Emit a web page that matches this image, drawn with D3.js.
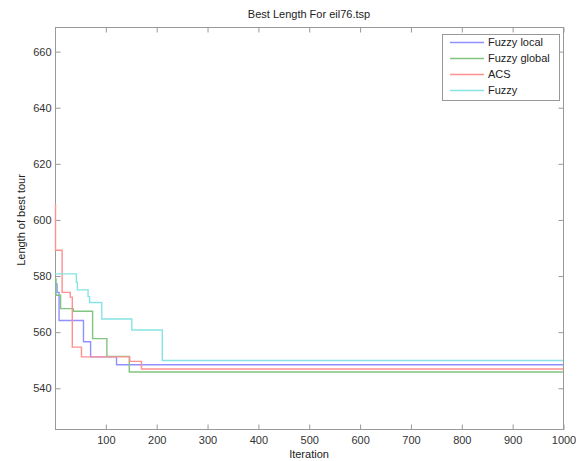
<!DOCTYPE html>
<html>
<head>
<meta charset="utf-8">
<script src="https://cdn.jsdelivr.net/npm/d3@7"></script>
<style>
  body { margin: 0; background: #fff; }
  svg { display: block; font-family: "Liberation Sans", Arial, sans-serif; }
</style>
</head>
<body>
<svg id="chart"></svg>
<script>
var seriesNames = ['Fuzzy local', 'Fuzzy global', 'ACS', 'Fuzzy'];
var seriesColors = ['#9090ff', '#80c480', '#ff9090', '#88e4e4'];

// step points: [iteration, best length]
var fuzzyLocal = [[1, 577], [5, 574], [9, 564], [57, 556.4], [71, 551], [122, 548.2], [1000, 548.2]];
var fuzzyGlobal = [[1, 578.8], [3, 573], [12, 568.2], [37, 567.3], [75, 557.5], [103, 551.2], [147, 545.6], [1000, 545.6]];
var acs = [[1, 605.3], [2, 589], [15, 574], [31, 572.3], [35, 554.5], [53, 551], [148, 549.4], [171, 546.7], [1000, 546.7]];
var fuzzy = [[1, 580.6], [43, 577.6], [45, 574.9], [66, 572.5], [69, 570.4], [93, 564.5], [152, 560.6], [212, 549.7], [1000, 549.7]];

var xTicks = [100, 200, 300, 400, 500, 600, 700, 800, 900, 1000];
var yTicks = [540, 560, 580, 600, 620, 640, 660];

var width = 581;
var height = 461;
var borders = { top: 27, right: 18, bottom: 32, left: 55 };

var svg = d3.select('#chart').attr('width', width).attr('height', height);

var xScale = d3.scaleLinear()
  .domain([1, 1000])
  .range([borders.left, width - borders.right]);

var yScale = d3.scaleLinear()
  .domain([525.3, 668.6])
  .range([height - borders.bottom, borders.top]);

var plotW = width - borders.left - borders.right;
var plotH = height - borders.top - borders.bottom;

// frame
svg.append('rect')
  .attr('x', borders.left + 0.5)
  .attr('y', borders.top + 0.5)
  .attr('width', plotW)
  .attr('height', plotH)
  .attr('fill', 'none')
  .attr('stroke', '#999');

// bottom + top axes (ticks pointing inside)
svg.append('g')
  .attr('class', 'bottomAxis')
  .attr('transform', 'translate(0.5,' + (height - borders.bottom + 0.5) + ')')
  .call(d3.axisBottom(xScale).tickValues(xTicks).tickFormat(d3.format('d'))
    .tickSizeInner(-5).tickSizeOuter(0).tickPadding(7));

svg.append('g')
  .attr('class', 'topAxis')
  .attr('transform', 'translate(0.5,' + (borders.top + 0.5) + ')')
  .call(d3.axisTop(xScale).tickValues(xTicks).tickSizeInner(-5).tickSizeOuter(0).tickFormat(''));

svg.append('g')
  .attr('class', 'leftAxis')
  .attr('transform', 'translate(' + (borders.left + 0.5) + ',0.5)')
  .call(d3.axisLeft(yScale).tickValues(yTicks).tickFormat(d3.format('d'))
    .tickSizeInner(-5).tickSizeOuter(0).tickPadding(4));

svg.append('g')
  .attr('class', 'rightAxis')
  .attr('transform', 'translate(' + (width - borders.right + 0.5) + ',0.5)')
  .call(d3.axisRight(yScale).tickValues(yTicks).tickSizeInner(-5).tickSizeOuter(0).tickFormat(''));

svg.selectAll('.domain').remove();
svg.selectAll('.tick line').attr('stroke', '#999');
svg.selectAll('.tick text')
  .attr('fill', '#333')
  .attr('font-size', '11px')
  .attr('font-family', '"Liberation Sans", Arial, sans-serif');

// lines
var line = d3.line()
  .curve(d3.curveStepAfter)
  .x(function(d) { return xScale(d[0]); })
  .y(function(d) { return yScale(d[1]); });

var allSeries = [fuzzyLocal, fuzzyGlobal, acs, fuzzy];

svg.append('g').selectAll('path')
  .data(allSeries)
  .enter()
  .append('path')
  .attr('d', line)
  .attr('fill', 'none')
  .attr('stroke', function(d, i) { return seriesColors[i]; })
  .attr('stroke-width', 1.4);

// legend
var legend = svg.append('g').attr('class', 'legend');
legend.append('rect')
  .attr('x', 442.5)
  .attr('y', 34.5)
  .attr('width', 117)
  .attr('height', 66)
  .attr('fill', '#fff')
  .attr('stroke', '#999');

var legendRows = legend.selectAll('g.row')
  .data(seriesNames)
  .enter()
  .append('g')
  .attr('class', 'row')
  .attr('transform', function(d, i) { return 'translate(0,' + (42.5 + i * 16) + ')'; });

legendRows.append('line')
  .attr('x1', 450)
  .attr('x2', 484)
  .attr('stroke', function(d, i) { return seriesColors[i]; })
  .attr('stroke-width', 1.4);

legendRows.append('text')
  .attr('x', 488)
  .attr('dy', '0.35em')
  .attr('font-size', '11px')
  .attr('fill', '#222')
  .text(function(d) { return d; });

// titles
svg.append('text')
  .text('Best Length For eil76.tsp')
  .attr('x', borders.left + plotW / 2)
  .attr('y', 18)
  .attr('text-anchor', 'middle')
  .attr('font-size', '11px')
  .attr('fill', '#222');

svg.append('text')
  .text('Iteration')
  .attr('x', borders.left + plotW / 2)
  .attr('y', 458)
  .attr('text-anchor', 'middle')
  .attr('font-size', '11px')
  .attr('fill', '#222');

svg.append('text')
  .text('Length of best tour')
  .attr('text-anchor', 'middle')
  .attr('font-size', '11px')
  .attr('fill', '#222')
  .attr('transform', 'translate(25,' + (borders.top + plotH / 2 - 8) + ')rotate(-90)');
</script>
</body>
</html>
